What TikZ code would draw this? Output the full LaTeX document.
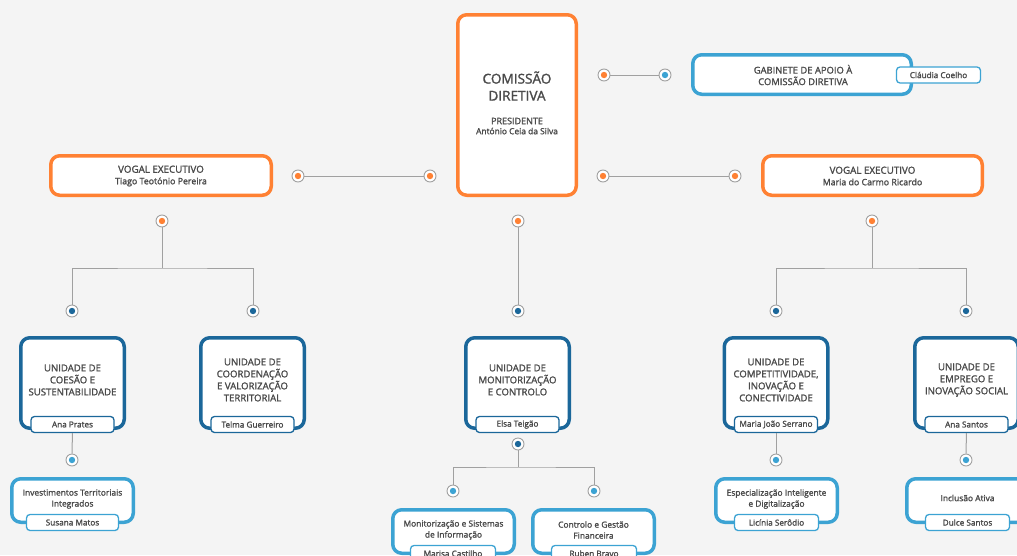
\documentclass[tikz,border=0pt]{standalone}
\usepackage{fontspec}
\setmainfont{Open Sans}[RawFeature={embolden=1.6}]
\usetikzlibrary{shadows}
\definecolor{bg}{HTML}{F4F4F4}
\definecolor{org}{HTML}{FF8133}
\definecolor{dblue}{HTML}{1B679A}
\definecolor{lblue}{HTML}{3CA3D3}
\definecolor{txt}{HTML}{4A4A4A}
\definecolor{lin}{HTML}{A0A0A0}
\tikzset{
  box/.style={draw, line width=3.5pt, rounded corners=9pt, fill=white, inner sep=0pt, text=txt, align=center,
    drop shadow={shadow xshift=1pt, shadow yshift=-1.5pt, opacity=0.12}},
  obox/.style={box, draw=org},
  ubox/.style={box, draw=dblue, minimum width=103.5pt, minimum height=90.5pt},
  sbox/.style={box, draw=lblue, minimum width=121.5pt, minimum height=43.5pt},
  tagd/.style={draw=dblue, line width=1.3pt, fill=white, rounded corners=3.5pt, minimum height=16pt, minimum width=83pt, inner sep=0pt, font=\fontsize{8.2}{9}\selectfont, text=txt},
  tagl/.style={tagd, draw=lblue},
  utext/.style={text=txt, align=center, font=\fontsize{9.6}{12}\selectfont, inner sep=0pt},
  stext/.style={text=txt, align=center, font=\fontsize{8.4}{11}\selectfont, inner sep=0pt},
  dotn/.style={circle, draw=lin, line width=0.9pt, fill=white, minimum size=12pt, inner sep=0pt,
    path picture={\fill[#1] (path picture bounding box.center) circle (3.2pt);}},
  conn/.style={draw=lin, line width=1pt}
}
\begin{document}
\begin{tikzpicture}[x=1pt,y=-1pt]
\useasboundingbox (0,0) rectangle (1017,555);
\clip (0,0) rectangle (1017,555);
\fill[bg] (0,0) rectangle (1017,555);

% top level
\node[obox, minimum width=118.5pt, minimum height=180.5pt] (cd) at (517,105) {};
\node[text=txt, align=center, inner sep=0pt, font=\fontsize{13.6}{17}\selectfont] (cdt) at (517,86) {COMISSÃO\\DIRETIVA};
\node[text=txt, align=center, inner sep=0pt, font=\fontsize{9}{10}\selectfont] (cdp) at (517,126) {PRESIDENTE\\\fontsize{8.4}{10}\selectfont António Ceia da Silva};

\node[box, draw=lblue, minimum width=218.5pt, minimum height=39.5pt] (gab) at (802,74.5) {};
\node[utext, font=\fontsize{9.4}{11.5}\selectfont] (gabt) at (803,75) {GABINETE DE APOIO À\\COMISSÃO DIRETIVA};
\node[tagl, minimum width=84pt] (gabtag) at (938.5,75) {Cláudia Coelho};

\node[obox, minimum width=220.5pt, minimum height=39.5pt] (vl) at (161,175.5) {};
\node[text=txt, align=center, inner sep=0pt, font=\fontsize{9.8}{11.5}\selectfont] (vlt) at (161,176) {VOGAL EXECUTIVO\\\fontsize{8.8}{10}\selectfont Tiago Teotónio Pereira};
\node[obox, minimum width=219.5pt, minimum height=39.5pt] (vr) at (872.5,175.5) {};
\node[text=txt, align=center, inner sep=0pt, font=\fontsize{9.8}{11.5}\selectfont] (vrt) at (872.5,176) {VOGAL EXECUTIVO\\\fontsize{8.8}{10}\selectfont Maria do Carmo Ricardo};

% dots top
\node[dotn=org] (d1) at (604,75) {};
\node[dotn=lblue] (d2) at (665,75) {};
\draw[conn] (d1) -- (d2);
\node[dotn=org] (d3) at (298,176) {};
\node[dotn=org] (d4) at (430,176) {};
\draw[conn] (d3) -- (d4);
\node[dotn=org] (d5) at (603,176) {};
\node[dotn=org] (d6) at (735,176) {};
\draw[conn] (d5) -- (d6);

% vogal / centre dots
\node[dotn=org] (dl) at (162,221) {};
\node[dotn=org] (dc) at (518,221) {};
\node[dotn=org] (dr) at (872,221) {};

\node[dotn=dblue] (a1) at (72,311) {};
\node[dotn=dblue] (a2) at (253,311) {};
\node[dotn=dblue] (a3) at (518,311) {};
\node[dotn=dblue] (a4) at (776,311) {};
\node[dotn=dblue] (a5) at (966,311) {};

\coordinate (jl) at (162,268);
\coordinate (jr) at (872,268);
\draw[conn] (dl) -- (jl);
\draw[conn] (a1) |- (jl) -| (a2);
\draw[conn] (dr) -- (jr);
\draw[conn] (a4) |- (jr) -| (a5);
\draw[conn] (dc) -- (a3);

% units
\node[ubox] (u1) at (72.5,383) {};
\node[utext] (u1t) at (72.5,380) {UNIDADE DE\\COESÃO E\\SUSTENTABILIDADE};
\node[tagd] (u1g) at (72.5,424.5) {Ana Prates};

\node[ubox] (u2) at (252.5,383) {};
\node[utext] (u2t) at (252.5,380) {UNIDADE DE\\COORDENAÇÃO\\E VALORIZAÇÃO\\TERRITORIAL};
\node[tagd] (u2g) at (252.5,424.5) {Telma Guerreiro};

\node[ubox] (u3) at (517.5,383) {};
\node[utext] (u3t) at (517.5,380) {UNIDADE DE\\MONITORIZAÇÃO\\E CONTROLO};
\node[tagd] (u3g) at (517.5,424.5) {Elsa Teigão};

\node[ubox] (u4) at (776,383) {};
\node[utext] (u4t) at (776,380) {UNIDADE DE\\COMPETITIVIDADE,\\INOVAÇÃO E\\CONECTIVIDADE};
\node[tagd] (u4g) at (776,424.5) {Maria João Serrano};

\node[ubox] (u5) at (966.5,383) {};
\node[utext] (u5t) at (966.5,380) {UNIDADE DE\\EMPREGO E\\INOVAÇÃO SOCIAL};
\node[tagd] (u5g) at (966.5,424.5) {Ana Santos};

% sub-level dots
\node[dotn=lblue] (b1) at (72,460) {};
\draw[conn] (u1g) -- (b1);
\node[dotn=dblue] (b3) at (518,444) {};
\coordinate (jc) at (518,467);
\node[dotn=lblue] (c1) at (453,491) {};
\node[dotn=lblue] (c2) at (594,491) {};
\draw[conn] (b3) -- (jc);
\draw[conn] (c1) |- (jc) -| (c2);
\node[dotn=lblue] (b4) at (776,460) {};
\draw[conn] (u4g) -- (b4);
\node[dotn=lblue] (b5) at (966,460) {};
\draw[conn] (u5g) -- (b5);

% sub boxes
\node[sbox] (s1) at (72.5,500.5) {};
\node[stext] (s1t) at (72.5,499) {Investimentos Territoriais\\Integrados};
\node[tagl, minimum width=92pt] (s1g) at (72.5,522.5) {Susana Matos};

\node[sbox] (s2) at (453.5,531.5) {};
\node[stext] (s2t) at (453.5,530) {Monitorização e Sistemas\\de Informação};
\node[tagl, minimum width=85pt] (s2g) at (453,553.5) {Marisa Castilho};

\node[sbox] (s3) at (593.5,531.5) {};
\node[stext] (s3t) at (593.5,530) {Controlo e Gestão\\Financeira};
\node[tagl, minimum width=85pt] (s3g) at (594,553.5) {Ruben Bravo};

\node[sbox] (s4) at (776.5,500.5) {};
\node[stext] (s4t) at (776.5,499) {Especialização Inteligente\\e Digitalização};
\node[tagl, minimum width=84pt] (s4g) at (776.5,522.5) {Licínia Serôdio};

\node[sbox] (s5) at (967.5,500.5) {};
\node[stext] (s5t) at (967.5,498) {Inclusão Ativa};
\node[tagl, minimum width=84pt] (s5g) at (967.5,522.5) {Dulce Santos};
\end{tikzpicture}
\end{document}
